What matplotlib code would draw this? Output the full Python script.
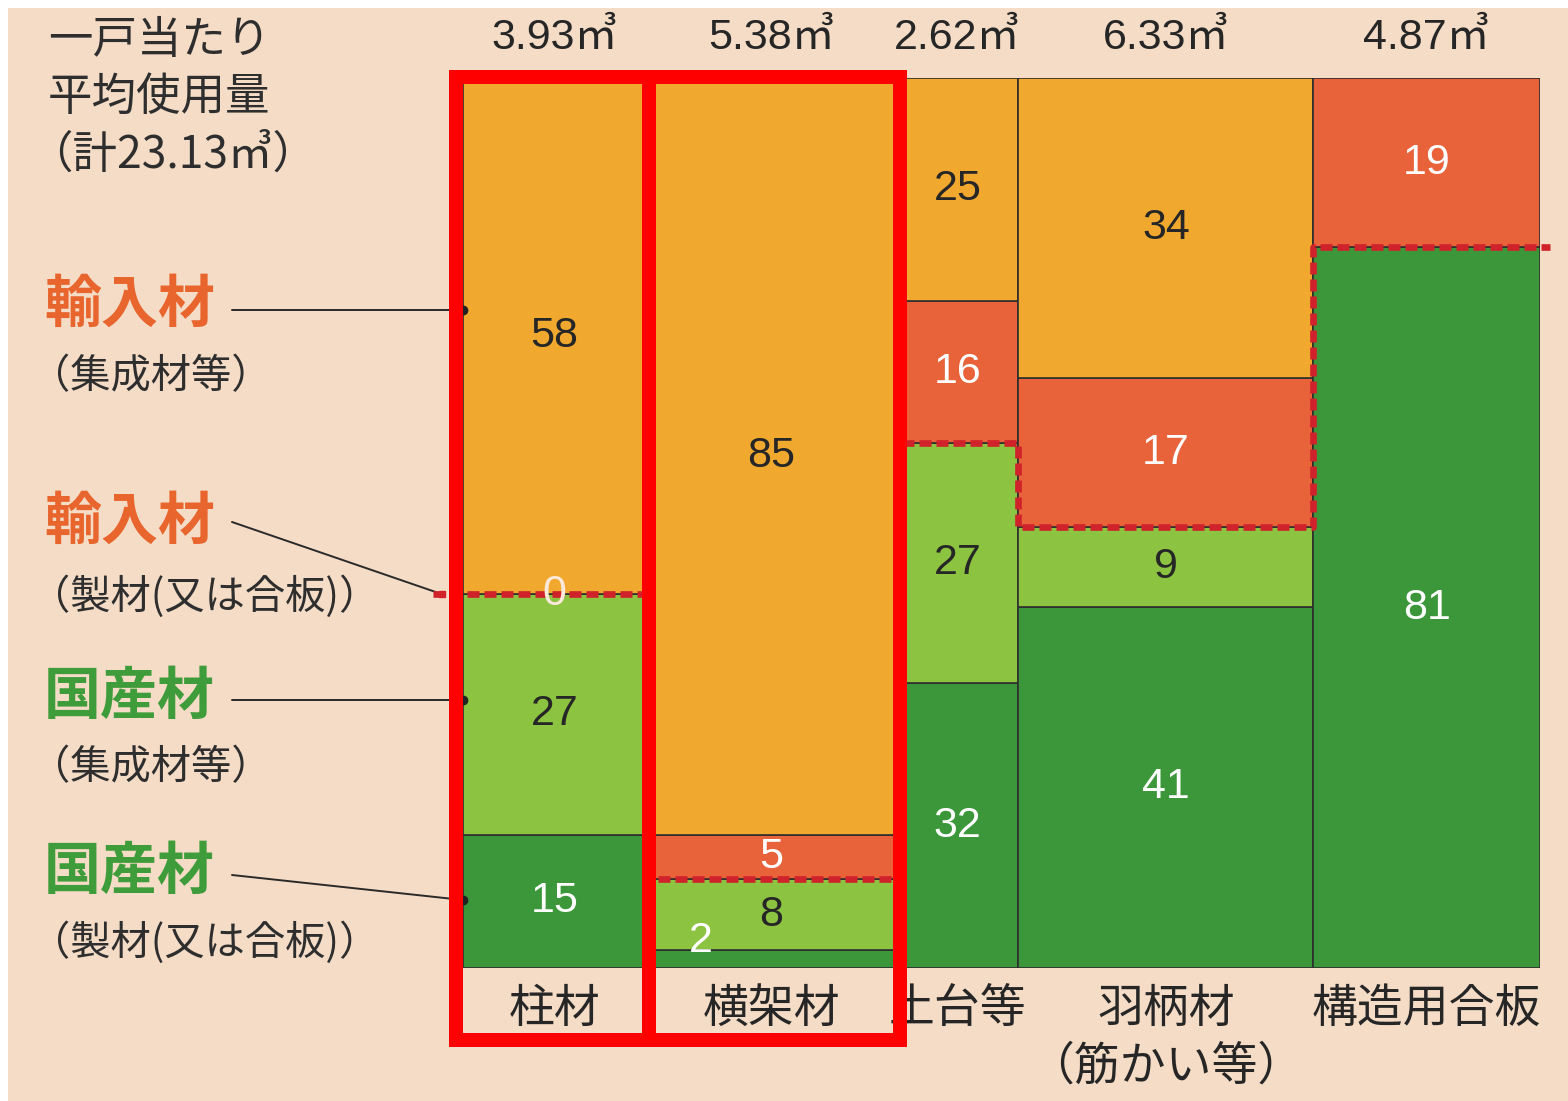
import matplotlib
matplotlib.use('Agg')
import matplotlib.pyplot as plt
from matplotlib.patches import Rectangle
from matplotlib.transforms import IdentityTransform, blended_transform_factory
import numpy as np

plt.rcParams['font.family'] = ['Noto Sans CJK JP', 'DejaVu Sans']
NUM_FONT = ['Liberation Sans', 'Noto Sans CJK JP', 'DejaVu Sans']

# ---------------- data ----------------
categories = ['柱材', '横架材', '土台等', '羽柄材\n（筋かい等）', '構造用合板']
volumes = [3.93, 5.38, 2.62, 6.33, 4.87]           # m3 per house (column widths)
volume_labels = ['3.93㎥', '5.38㎥', '2.62㎥', '6.33㎥', '4.87㎥']
# shares (%) stacked bottom -> top ; None = not applicable
domestic_sawn = [15, 2, 32, 41, 81]      # 国産材（製材（又は合板））
domestic_glulam = [27, 8, 27, 9, None]   # 国産材（集成材等）
imported_sawn = [0, 5, 16, 17, 19]       # 輸入材（製材（又は合板））
imported_glulam = [58, 85, 25, 34, None] # 輸入材（集成材等）
series = [domestic_sawn, domestic_glulam, imported_sawn, imported_glulam]
series_colors = ['#3b9739', '#8cc340', '#e8623a', '#f0a92e']
text_colors = ['white', '#262626', 'white', '#262626']

W, H = 1568, 1101
BG = '#f4dcc6'
fig = plt.figure(figsize=(W / 100, H / 100), dpi=100)
fig.patch.set_facecolor('white')
fig.add_artist(Rectangle((8, 0), W - 8, H - 8, transform=IdentityTransform(),
                         facecolor=BG, edgecolor='none', zorder=0))

def fx(x):
    return x / W

def fy(y):
    return 1 - y / H

ax = fig.add_axes([fx(463), fy(968), (1540 - 463) / W, (968 - 78) / H])
ax.set_xlim(0, sum(volumes))
ax.set_ylim(0, 100)
ax.axis('off')
ax.patch.set_alpha(0)

lefts = np.concatenate([[0], np.cumsum(volumes)[:-1]])
totals = [sum(s[i] for s in series if s[i] is not None) for i in range(len(volumes))]
px_per_x = (1540 - 463) / sum(volumes)
px_per_y = (968 - 78) / 100

num_fs = 31
for i in range(len(volumes)):
    bottom = 0.0
    for k, s in enumerate(series):
        v = s[i]
        if v is None:
            continue
        h = v * 100.0 / totals[i]
        if h > 0:
            ax.bar(lefts[i], h, width=volumes[i], bottom=bottom, align='edge',
                   color=series_colors[k], edgecolor='#2e2e2e', linewidth=1.2, zorder=2)
        # value label
        if 0 < h * px_per_y < 30:
            tx = lefts[i] + volumes[i] * 0.22
            ty = bottom + 3.0
            col = 'white'
        else:
            tx = lefts[i] + volumes[i] / 2
            ty = bottom + h / 2
            col = text_colors[k] if h > 0 else '#fbe9dc'
        ax.text(tx, ty, str(v), ha='center', va='center', fontsize=num_fs,
                color=col, zorder=6, family=NUM_FONT)
        bottom += h

# dashed boundary between domestic and imported
levels = [(domestic_sawn[i] + (domestic_glulam[i] or 0)) * 100.0 / totals[i]
          for i in range(len(volumes))]
edges = np.concatenate([[0], np.cumsum(volumes)])
xs = [edges[0] - 30 / px_per_x]
ys = [levels[0]]
for i in range(len(volumes)):
    xs += [edges[i], edges[i + 1]]
    ys += [levels[i], levels[i]]
xs.append(edges[-1] + 10 / px_per_x)
ys.append(levels[-1])
ax.plot(xs, ys, color='#d0222b', lw=4.8, linestyle=(0, (1.8, 0.75)),
        clip_on=False, zorder=4)

# volume labels on top
for i in range(len(volumes)):
    ax.text(lefts[i] + volumes[i] / 2, 100 + 40 / px_per_y, volume_labels[i],
            ha='center', va='center', fontsize=31, color='#262626', family=NUM_FONT)

# category labels at bottom
for i in range(len(volumes)):
    ax.text(lefts[i] + volumes[i] / 2, -16 / px_per_y, categories[i],
            ha='center', va='top', fontsize=33, color='#262626', linespacing=1.25,
            zorder=3)

# left title
for y, t, xx in zip([40, 97, 155], ['一戸当たり', '平均使用量', '（計23.13㎥）'],
                    [48, 48, 28]):
    fig.text(fx(xx), fy(y), t, ha='left', va='center', fontsize=32, color='#2e2e2e')

# left legend labels
orange_txt = '#e8652d'
green_txt = '#3f9c3a'
legend_items = [
    ('輸入材', orange_txt, '（集成材等）', 305, 377),
    ('輸入材', orange_txt, '（製材(又は合板)）', 522, 597),
    ('国産材', green_txt, '（集成材等）', 697, 768),
    ('国産材', green_txt, '（製材(又は合板)）', 872, 943),
]
for main, col, sub, y1, y2 in legend_items:
    fig.text(fx(44), fy(y1), main, ha='left', va='center', fontsize=41,
             color=col, fontweight='bold')
    fig.text(fx(30), fy(y2), sub, ha='left', va='center', fontsize=29, color='#2e2e2e')

# leader lines
blend = blended_transform_factory(ax.transData, fig.transFigure)
leader_targets = [
    (0, fy(310), fy(310), '#222222'),
    (-0.45, None, fy(522), '#d2232a'),
    (0, fy(700), fy(700), '#222222'),
    (0, fy(900), fy(875), '#222222'),
]
for x_end, y_end, y_start, dot in leader_targets:
    if y_end is None:
        xy = (x_end, levels[0])
        xyc = 'data'
    else:
        xy = (x_end, y_end)
        xyc = blend
    ax.annotate('', xy=xy, xycoords=xyc, xytext=(fx(232), y_start),
                textcoords='figure fraction',
                arrowprops=dict(arrowstyle='-', color='#2a2a2a', lw=1.4,
                                shrinkA=0, shrinkB=0), annotation_clip=False)
    if y_end is None:
        ax.plot([x_end], [levels[0]], 's', ms=4, color=dot, clip_on=False, zorder=5)
    else:
        ax.plot([x_end], [y_end], 'o', ms=6, color=dot, clip_on=False, zorder=5,
                transform=blend)

# highlight rectangles around the first two columns
fig.canvas.draw()
lw_px = 14
for i in (0, 1):
    x0, y0 = ax.transData.transform((edges[i], 100))
    x1, y1 = ax.transData.transform((edges[i + 1], 0))
    left = x0 - 7 if i == 0 else x0 + 3
    right = x1 + 3
    top = y0 + 1
    bottom = y1 - 72
    fig.add_artist(Rectangle((left, bottom), right - left, top - bottom,
                             transform=IdentityTransform(), fill=False,
                             edgecolor='#ff0000', lw=lw_px * 72 / 100, zorder=20,
                             joinstyle='miter'))

fig.savefig('out.png', dpi=100, facecolor=fig.get_facecolor())
